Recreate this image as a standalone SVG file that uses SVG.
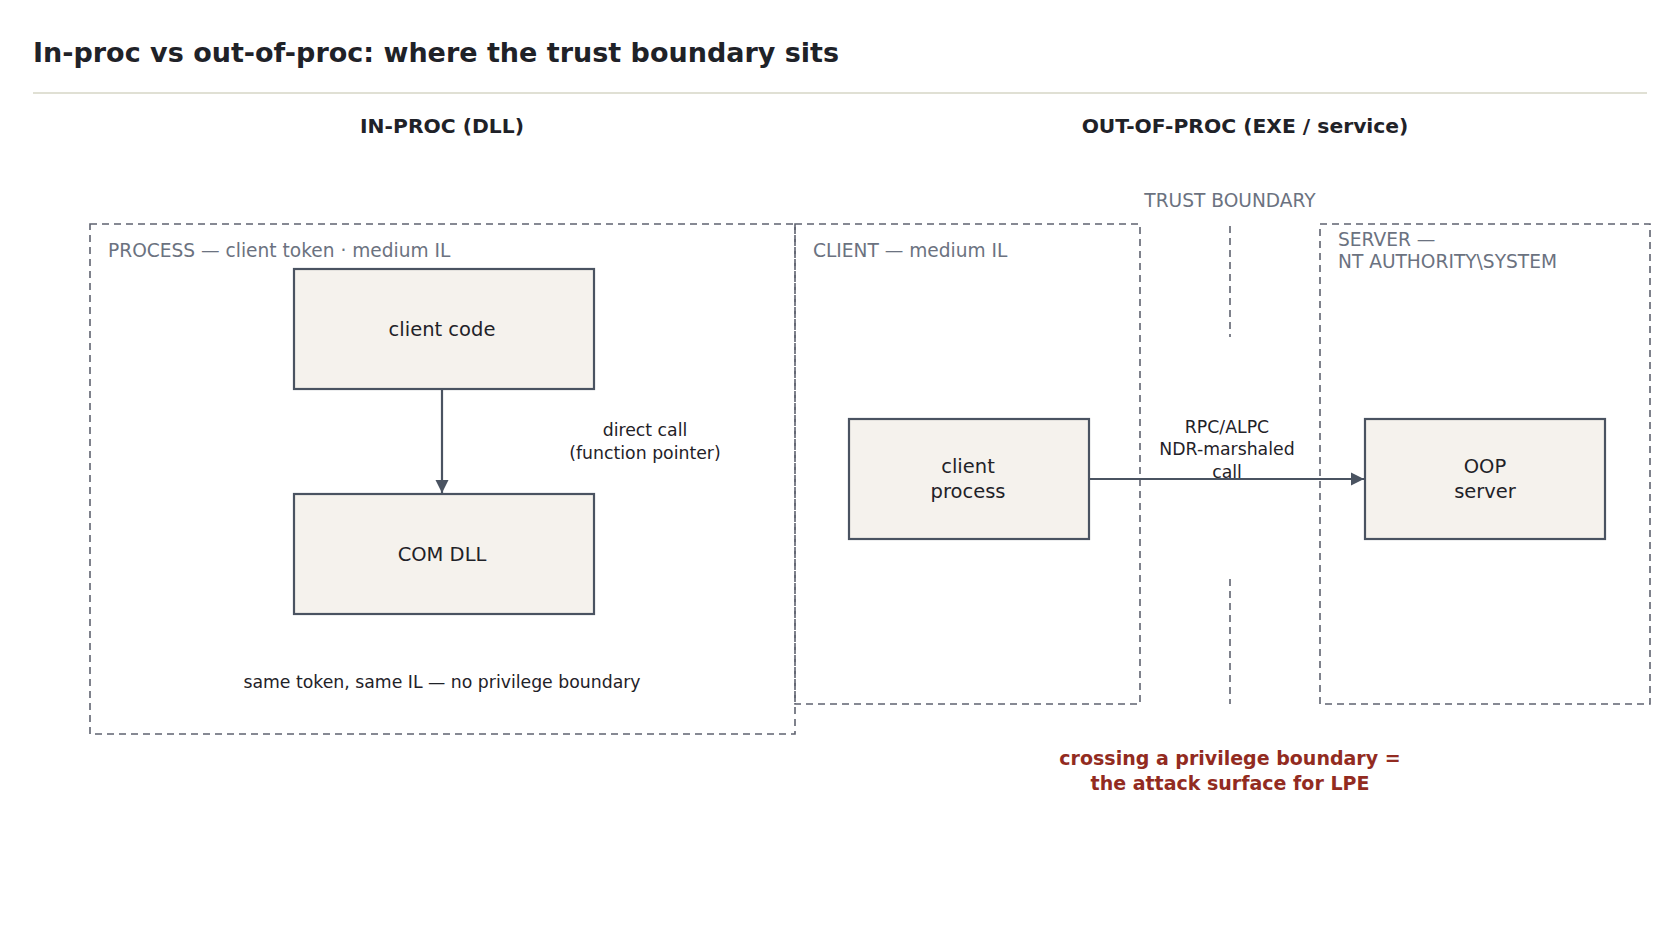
<svg xmlns="http://www.w3.org/2000/svg" width="1680" height="929" viewBox="0 0 1680 929">
<style>
text{font-family:"DejaVu Sans","Noto Sans",sans-serif}
.zone{fill:none;stroke:#5f6370;stroke-width:1.6;stroke-dasharray:7 5}
.node{fill:#f5f2ed;stroke:#4a5361;stroke-width:2.2}
.nt{font-size:19.5px;fill:#1f2228;text-anchor:middle}
.zl{font-size:18.6px;fill:#6b7280}
.el{font-size:17.3px;fill:#1f2228;text-anchor:middle}
.hd{font-size:20.3px;font-weight:bold;fill:#1f2228;text-anchor:middle}
.edge{stroke:#4a5361;stroke-width:2.2;fill:none}
</style>
<defs><marker id="ah" viewBox="0 0 10 10" refX="10" refY="5" markerWidth="6" markerHeight="6" orient="auto" markerUnits="strokeWidth"><path d="M0,0L10,5L0,10z" fill="#4a5361"/></marker></defs>
<rect width="1680" height="929" fill="#fff"/>
<text x="33" y="62" font-size="27" font-weight="bold" fill="#1f2228">In-proc vs out-of-proc: where the trust boundary sits</text>
<line x1="33" y1="93" x2="1647" y2="93" stroke="#e0e0d4" stroke-width="2"/>
<text class="hd" x="442" y="133">IN-PROC (DLL)</text>
<text class="hd" x="1245" y="133">OUT-OF-PROC (EXE / service)</text>
<g id="zones">
<rect class="zone" x="90" y="224" width="705" height="510"/>
<text class="zl" x="108" y="257">PROCESS — client token · medium IL</text>
<rect class="zone" x="795" y="224" width="345" height="480"/>
<text class="zl" x="813" y="257">CLIENT — medium IL</text>
<rect class="zone" x="1320" y="224" width="330" height="480"/>
<text class="zl" x="1338" y="246">SERVER —</text>
<text class="zl" x="1338" y="268">NT AUTHORITY\SYSTEM</text>
<text class="zl" x="1230" y="207" text-anchor="middle" font-size="17">TRUST BOUNDARY</text>
<line class="zone" x1="1230" y1="226" x2="1230" y2="337"/>
<line class="zone" x1="1230" y1="579" x2="1230" y2="704"/>
</g>
<g id="connectors">
<line class="edge" x1="442" y1="389" x2="442" y2="493" marker-end="url(#ah)"/>
<text class="el" x="645" y="436">direct call</text>
<text class="el" x="645" y="459">(function pointer)</text>
<line class="edge" x1="1089" y1="479" x2="1364" y2="479" marker-end="url(#ah)"/>
<text class="el" x="1227" y="433">RPC/ALPC</text>
<text class="el" x="1227" y="455">NDR-marshaled</text>
<text class="el" x="1227" y="478">call</text>
</g>
<g id="client-code"><rect class="node" x="294" y="269" width="300" height="120"/><text class="nt" x="442" y="336">client code</text></g>
<g id="com-dll"><rect class="node" x="294" y="494" width="300" height="120"/><text class="nt" x="442" y="561">COM DLL</text></g>
<g id="client-process"><rect class="node" x="849" y="419" width="240" height="120"/><text class="nt" x="968" y="473">client</text><text class="nt" x="968" y="498">process</text></g>
<g id="oop-server"><rect class="node" x="1365" y="419" width="240" height="120"/><text class="nt" x="1485" y="473">OOP</text><text class="nt" x="1485" y="498">server</text></g>
<text class="el" x="442" y="688" font-size="19">same token, same IL — no privilege boundary</text>
<text x="1230" y="765" font-size="19" font-weight="bold" fill="#922b21" text-anchor="middle">crossing a privilege boundary =</text>
<text x="1230" y="790" font-size="19" font-weight="bold" fill="#922b21" text-anchor="middle">the attack surface for LPE</text>
</svg>
